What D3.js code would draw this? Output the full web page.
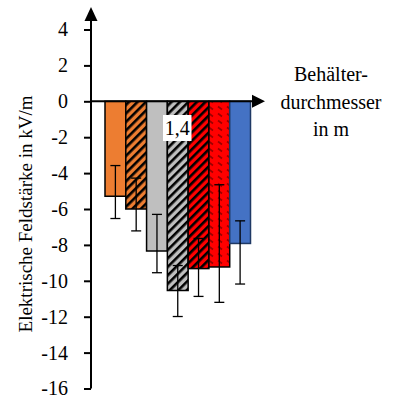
<!DOCTYPE html>
<html>
<head>
<meta charset="utf-8">
<script src="https://cdn.jsdelivr.net/npm/d3@7"></script>
<style>
  body { margin: 0; background: #fff; }
  svg text { font-family: "Liberation Serif", "Times New Roman", Times, "DejaVu Serif", serif; }
</style>
</head>
<body>
<svg id="chart" width="396" height="399"></svg>
<script>
// bars (no category labels in the picture, only the "1,4" marker)
let categories = ['b1', 'b2', 'b3', 'b4', 'b5', 'b6', 'b7'];
let values = [-5.29, -6.0, -8.34, -10.54, -9.32, -9.23, -7.92];
let errHigh = [-3.58, -4.28, -6.3, -9.15, -7.64, -4.65, -6.66];
let errLow = [-6.53, -7.22, -9.55, -11.99, -10.87, -11.2, -10.18];
let fills = ['orange', 'orangeHatch', 'gray', 'grayHatch', 'redHatch', 'redDash', 'blue'];
let yTicks = [4, 2, 0, -2, -4, -6, -8, -10, -12, -14, -16];

let serif = '"Liberation Serif", "Times New Roman", Times, "DejaVu Serif", serif';

let svg = d3.select('#chart');

let x = d3.scaleBand()
    .domain(categories)
    .range([105, 250.5])
    .padding(0);

let y = d3.scaleLinear()
    .domain([-16, 4])
    .range([388.5, 29.5]);

let x0 = 91; // y axis position

// patterns
let defs = svg.append('defs');
function stripes(id, bg, fg){
  let p = defs.append('pattern')
      .attr('id', id)
      .attr('patternUnits', 'userSpaceOnUse')
      .attr('width', 6).attr('height', 6)
      .attr('patternTransform', 'rotate(45)');
  p.append('rect').attr('width', 6).attr('height', 6).attr('fill', bg);
  p.append('rect').attr('width', 2.6).attr('height', 6).attr('fill', fg);
}
stripes('orangeHatch', '#ED7D31', '#000');
stripes('grayHatch', '#BFBFBF', '#000');
stripes('redHatch', '#FF0000', '#000');

let pd = defs.append('pattern')
    .attr('id', 'redDash')
    .attr('patternUnits', 'userSpaceOnUse')
    .attr('width', 9).attr('height', 7);
pd.append('rect').attr('width', 9).attr('height', 7).attr('fill', '#FF0000');
pd.append('line')
    .attr('x1', 2).attr('y1', 1.5).attr('x2', 6).attr('y2', 4.5)
    .attr('stroke', '#9A0000').attr('stroke-width', 1.6);

let fillMap = {
  orange: '#ED7D31',
  gray: '#BFBFBF',
  blue: '#4472C4',
  orangeHatch: 'url(#orangeHatch)',
  grayHatch: 'url(#grayHatch)',
  redHatch: 'url(#redHatch)',
  redDash: 'url(#redDash)'
};

// bars
svg.append('g')
  .selectAll('rect')
  .data(categories)
  .enter().append('rect')
    .attr('x', function(d){ return x(d); })
    .attr('width', x.bandwidth())
    .attr('y', y(0))
    .attr('height', function(d, i){ return y(values[i]) - y(0); })
    .attr('fill', function(d, i){ return fillMap[fills[i]]; })
    .attr('stroke', function(d, i){ return fills[i] == 'blue' ? '#1F3864' : '#000'; })
    .attr('stroke-width', 1.5);

// error bars
let eg = svg.append('g')
    .attr('stroke', '#000')
    .attr('stroke-width', 1.3);
categories.forEach(function(c, i){
  let cx = x(c) + x.bandwidth() / 2;
  eg.append('line').attr('x1', cx).attr('x2', cx)
    .attr('y1', y(errHigh[i])).attr('y2', y(errLow[i]));
  eg.append('line').attr('x1', cx - 5).attr('x2', cx + 5)
    .attr('y1', y(errHigh[i])).attr('y2', y(errHigh[i]));
  eg.append('line').attr('x1', cx - 5).attr('x2', cx + 5)
    .attr('y1', y(errLow[i])).attr('y2', y(errLow[i]));
});

// y axis
let ax = svg.append('g')
    .attr('transform', 'translate(' + x0 + ',0)')
    .call(d3.axisLeft(y)
      .tickValues(yTicks)
      .tickSize(7)
      .tickSizeOuter(0)
      .tickPadding(16)
      .tickFormat(function(d){ return d; }));
ax.attr('font-family', serif).attr('font-size', 20);
ax.select('.domain').remove();
ax.selectAll('line').attr('stroke', '#000').attr('stroke-width', 2);
ax.selectAll('text').attr('fill', '#000');

svg.append('line')
    .attr('x1', x0).attr('x2', x0)
    .attr('y1', y(-16)).attr('y2', 20)
    .attr('stroke', '#000').attr('stroke-width', 2);
svg.append('path')
    .attr('d', 'M' + (x0 - 6.5) + ',21 L' + x0 + ',7 L' + (x0 + 6.5) + ',21 Z')
    .attr('fill', '#000');

// x axis at zero
svg.append('line')
    .attr('x1', x0).attr('x2', 253)
    .attr('y1', y(0)).attr('y2', y(0))
    .attr('stroke', '#000').attr('stroke-width', 2);
svg.append('path')
    .attr('d', 'M252,' + (y(0) - 6.5) + ' L265,' + y(0) + ' L252,' + (y(0) + 6.5) + ' Z')
    .attr('fill', '#000');

// "1,4" marker
svg.append('rect')
    .attr('x', 163).attr('y', 115)
    .attr('width', 28.5).attr('height', 26)
    .attr('fill', '#fff');
svg.append('text')
    .attr('x', 177.3).attr('y', 135)
    .attr('text-anchor', 'middle')
    .attr('font-family', serif)
    .attr('font-size', 20)
    .text('1,4');

// axis titles
svg.append('text')
    .attr('transform', 'translate(32,214) rotate(-90)')
    .attr('text-anchor', 'middle')
    .attr('font-family', serif)
    .attr('font-size', 19)
    .text('Elektrische Feldstärke in kV/m');

let lines = ['Behälter-', 'durchmesser', 'in m'];
svg.append('g')
  .selectAll('text')
  .data(lines)
  .enter().append('text')
    .attr('x', 331)
    .attr('y', function(d, i){ return 81 + i * 27.5; })
    .attr('text-anchor', 'middle')
    .attr('font-family', serif)
    .attr('font-size', 20)
    .text(function(d){ return d; });
</script>
</body>
</html>
